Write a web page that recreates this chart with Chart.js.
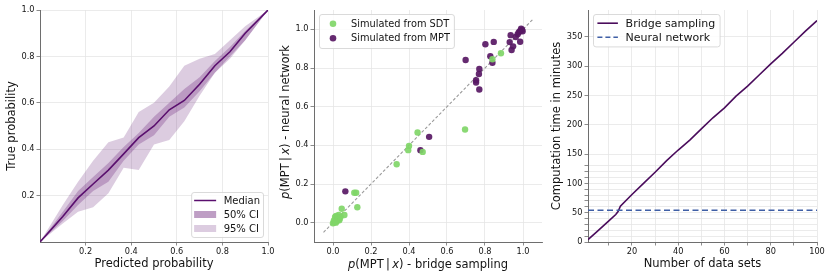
<!DOCTYPE html>
<html>
<head>
<meta charset="utf-8">
<script src="https://cdn.jsdelivr.net/npm/chart.js@4.4.1/dist/chart.umd.min.js"></script>
<style>
  html, body { margin: 0; padding: 0; background: #fff; }
  body { width: 831px; height: 279px; position: relative; overflow: hidden; }
  canvas { position: absolute; top: 0; }
</style>
</head>
<body>
<canvas id="calibration" width="278" height="279" style="left:0px"></canvas>
<canvas id="agreement" width="278" height="279" style="left:272px"></canvas>
<canvas id="timing" width="285" height="279" style="left:546px"></canvas>
<script>
// ---- left panel: calibration of the network ----
const predicted = [0, 0.1, 0.167, 0.233, 0.3, 0.367, 0.433, 0.5, 0.567, 0.633, 0.7, 0.767, 0.833, 0.9, 1];
const medianTrue = [0, 0.11, 0.19, 0.25, 0.31, 0.38, 0.45, 0.50, 0.57, 0.61, 0.68, 0.76, 0.82, 0.90, 1];
const ci50Upper = [0, 0.13, 0.22, 0.28, 0.34, 0.41, 0.47, 0.54, 0.60, 0.66, 0.71, 0.78, 0.84, 0.91, 1];
const ci50Lower = [0, 0.09, 0.16, 0.22, 0.26, 0.35, 0.42, 0.46, 0.54, 0.58, 0.65, 0.73, 0.80, 0.87, 1];
const ci95Upper = [0, 0.16, 0.26, 0.35, 0.43, 0.45, 0.56, 0.60, 0.67, 0.76, 0.79, 0.81, 0.87, 0.93, 1];
const ci95Lower = [0, 0.08, 0.13, 0.15, 0.21, 0.32, 0.31, 0.42, 0.44, 0.52, 0.63, 0.73, 0.79, 0.87, 1];
const probTicks = [0.2, 0.4, 0.6, 0.8, 1.0];

// ---- middle panel: bridge sampling vs network ----
const sdtBridge = [0.884, 0.839, 0.695, 0.445, 0.400, 0.396, 0.472, 0.335, 0.112, 0.122, 0.128, 0.046, 0.060,
  0.005, 0.011, 0.016, 0.035, 0.033, 0.025, 0.000, 0.008, 0.020, 0.030, 0.015, 0.040];
const sdtNetwork = [0.876, 0.845, 0.482, 0.466, 0.397, 0.375, 0.366, 0.302, 0.155, 0.155, 0.080, 0.072, 0.040,
  0.012, 0.029, 0.035, 0.020, 0.012, 0.018, -0.003, 0.002, 0.008, 0.040, 0.000, 0.030];
const mptBridge = [0.065, 0.460, 0.506, 0.698, 0.770, 0.768, 0.753, 0.753, 0.770, 0.802, 0.846, 0.828, 0.839,
  0.930, 0.935, 0.940, 0.948, 0.985, 0.972, 0.985, 0.995, 0.962, 0.990, 0.978, 0.998];
const mptNetwork = [0.162, 0.375, 0.444, 0.841, 0.795, 0.769, 0.737, 0.725, 0.689, 0.923, 0.935, 0.861, 0.827,
  0.934, 0.970, 0.893, 0.912, 0.936, 0.975, 0.992, 0.998, 0.960, 1.003, 0.985, 0.990];
const identityLine = [-0.05, 1.05];
const pmpTicks = [0, 0.2, 0.4, 0.6, 0.8, 1.0];

// ---- right panel: computation time ----
const nDataSets = [1, 5, 10, 13, 14, 15, 20, 25, 30, 35, 40, 45, 50, 55, 60, 65, 70, 75, 80, 85, 90, 95, 100];
const bridgeMinutes = [4, 18, 36, 47, 52, 61, 81, 100, 119, 139, 157, 174, 193, 212, 229, 249, 266, 285, 304, 322, 341, 360, 378];
const networkX = [1, 100];
const networkMinutes = [54, 54];
const dataSetTicks = [10, 20, 30, 40, 50, 60, 70, 80, 90, 100];
const minuteTicks = [0, 10, 20, 30, 40, 50, 60, 70, 80, 90, 100, 110, 120, 130, 150, 200, 250, 300, 350];

const FONT = '"DejaVu Sans", sans-serif';
const GRID = '#e6e6e6';
const SPINE = '#6e6e6e';
const TEXT = '#141414';
const MEDIAN_COLOR = '#5a0f6e';
const CI50_FILL = 'rgba(110, 40, 125, 0.30)';
const CI95_FILL = 'rgba(110, 40, 125, 0.24)';
const SDT_COLOR = 'rgba(128, 214, 104, 0.92)';
const MPT_COLOR = 'rgba(88, 24, 100, 0.92)';
const BRIDGE_COLOR = '#4a0c5c';
const NETWORK_COLOR = '#3f5fa6';

Chart.defaults.font.family = FONT;
Chart.defaults.color = TEXT;
Chart.defaults.animation = false;
Chart.defaults.plugins.legend.display = false;
Chart.defaults.plugins.tooltip.enabled = false;

const pairs = (xs, ys) => xs.map((x, i) => ({ x, y: ys[i] }));
const setTicks = (values) => (axis) => { axis.ticks = values.map((value) => ({ value })); };

function axisBase(opts) {
  return {
    type: 'linear',
    min: opts.min,
    max: opts.max,
    afterBuildTicks: setTicks(opts.ticks),
    afterFit: opts.fit,
    ticks: {
      autoSkip: false,
      maxRotation: 0,
      font: { size: 8.2 },
      color: TEXT,
      padding: opts.pad ?? 2,
      callback: opts.label,
    },
    grid: {
      color: GRID,
      lineWidth: 0.8,
      tickLength: 3.5,
      tickColor: SPINE,
      tickWidth: 0.8,
    },
    border: { color: SPINE, width: 1 },
    title: opts.title
      ? { display: true, text: opts.title, font: { size: 11.5 }, color: TEXT, padding: opts.titlePad }
      : { display: false },
  };
}

// small matplotlib-like legend box drawn inside the plot area
function boxLegend(cfg) {
  return {
    id: 'boxLegend',
    afterDraw(chart) {
      const { ctx, chartArea: a } = chart;
      ctx.save();
      ctx.font = `${cfg.fontSize}px ${FONT}`;
      const textW = Math.max(...cfg.items.map((it) => ctx.measureText(it.label).width));
      const w = cfg.padX + cfg.handle + cfg.gap + textW + cfg.padX;
      const h = cfg.padY * 2 + cfg.rowH * cfg.items.length;
      const x0 = cfg.corner === 'tl' ? a.left + 5 : a.right - 5 - w;
      const y0 = cfg.corner === 'tl' ? a.top + 4 : a.bottom - 5 - h;
      ctx.beginPath();
      ctx.roundRect(x0 + 0.5, y0 + 0.5, w, h, 2.5);
      ctx.fillStyle = 'rgba(255,255,255,0.85)';
      ctx.fill();
      ctx.strokeStyle = '#d0d0d0';
      ctx.lineWidth = 0.8;
      ctx.stroke();
      cfg.items.forEach((it, i) => {
        const cy = y0 + cfg.padY + cfg.rowH * (i + 0.5);
        const hx = x0 + cfg.padX;
        if (it.kind === 'line') {
          ctx.beginPath();
          ctx.setLineDash(it.dash || []);
          ctx.moveTo(hx, cy);
          ctx.lineTo(hx + cfg.handle, cy);
          ctx.strokeStyle = it.color;
          ctx.lineWidth = it.width || 1.5;
          ctx.stroke();
          ctx.setLineDash([]);
        } else if (it.kind === 'rect') {
          ctx.fillStyle = it.color;
          ctx.fillRect(hx, cy - 3.5, cfg.handle, 7);
        } else {
          ctx.beginPath();
          ctx.arc(hx + cfg.handle / 2, cy, 3.3, 0, Math.PI * 2);
          ctx.fillStyle = it.color;
          ctx.fill();
        }
        ctx.fillStyle = TEXT;
        ctx.textBaseline = 'middle';
        ctx.fillText(it.label, hx + cfg.handle + cfg.gap, cy + 0.5);
      });
      ctx.restore();
    },
  };
}

// axis titles with math italic p and x for the middle panel
function drawMixed(ctx, parts, cx, cy, rot) {
  ctx.save();
  ctx.translate(cx, cy);
  ctx.rotate(rot);
  let total = 0;
  parts.forEach((p) => { ctx.font = p.font; p.w = ctx.measureText(p.text).width; total += p.w; });
  let x = -total / 2;
  ctx.fillStyle = TEXT;
  ctx.textBaseline = 'middle';
  parts.forEach((p) => { ctx.font = p.font; ctx.fillText(p.text, x, 0); x += p.w; });
  ctx.restore();
}

const pmpTitles = {
  id: 'pmpTitles',
  afterDraw(chart) {
    const { ctx, chartArea: a } = chart;
    const it = `italic 11.5px ${FONT}`;
    const up = `11.5px ${FONT}`;
    const lhs = [
      { text: 'p', font: it }, { text: '(MPT\u2009|\u2009', font: up },
      { text: 'x', font: it }, { text: ')', font: up },
    ];
    drawMixed(ctx, [...lhs, { text: ' - bridge sampling', font: up }], (a.left + a.right) / 2, 265, 0);
    drawMixed(ctx, lhs.map((p) => ({ ...p })).concat([{ text: ' - neural network', font: up }]),
      14, (a.top + a.bottom) / 2 - 4, -Math.PI / 2);
  },
};

// ---- left chart ----
new Chart(document.getElementById('calibration'), {
  type: 'line',
  data: {
    datasets: [
      { data: pairs(predicted, medianTrue), borderColor: MEDIAN_COLOR, borderWidth: 1.6, pointRadius: 0, fill: false },
      { data: pairs(predicted, ci50Upper), borderColor: 'transparent', borderWidth: 0, pointRadius: 0, backgroundColor: CI50_FILL, fill: '+1' },
      { data: pairs(predicted, ci50Lower), borderColor: 'transparent', borderWidth: 0, pointRadius: 0, fill: false },
      { data: pairs(predicted, ci95Upper), borderColor: 'transparent', borderWidth: 0, pointRadius: 0, backgroundColor: CI95_FILL, fill: '+1' },
      { data: pairs(predicted, ci95Lower), borderColor: 'transparent', borderWidth: 0, pointRadius: 0, fill: false },
    ],
  },
  options: {
    responsive: false,
    layout: { padding: { top: 10, right: 10, left: 0, bottom: 0 } },
    scales: {
      x: axisBase({ min: 0, max: 1, ticks: probTicks, label: (v) => v.toFixed(1), pad: 1,
        fit: (s) => { s.height = 37; }, title: 'Predicted probability', titlePad: { top: 0, bottom: 8 } }),
      y: axisBase({ min: 0, max: 1, ticks: probTicks, label: (v) => v.toFixed(1),
        fit: (s) => { s.width = 40; }, title: 'True probability', titlePad: { top: 5, bottom: 0 } }),
    },
  },
  plugins: [boxLegend({
    corner: 'br', fontSize: 10, rowH: 14, padX: 3, padY: 1.5, handle: 22, gap: 7.5,
    items: [
      { label: 'Median', kind: 'line', color: MEDIAN_COLOR },
      { label: '50% CI', kind: 'rect', color: 'rgba(110, 40, 125, 0.45)' },
      { label: '95% CI', kind: 'rect', color: CI95_FILL },
    ],
  })],
});

// ---- middle chart ----
new Chart(document.getElementById('agreement'), {
  type: 'scatter',
  data: {
    datasets: [
      { data: pairs(sdtBridge, sdtNetwork), backgroundColor: SDT_COLOR, borderWidth: 0, pointRadius: 3.2 },
      { data: pairs(mptBridge, mptNetwork), backgroundColor: MPT_COLOR, borderWidth: 0, pointRadius: 3.2 },
      { type: 'line', data: pairs(identityLine, identityLine), borderColor: '#9a9a9a', borderWidth: 1.1,
        borderDash: [3, 2], pointRadius: 0, fill: false },
    ],
  },
  options: {
    responsive: false,
    layout: { padding: { top: 10, right: 8, left: 0, bottom: 0 } },
    scales: {
      x: axisBase({ min: -0.1, max: 1.1, ticks: pmpTicks, label: (v) => v.toFixed(1), pad: 1,
        fit: (s) => { s.height = 37; } }),
      y: axisBase({ min: -0.1, max: 1.1, ticks: pmpTicks, label: (v) => v.toFixed(1),
        fit: (s) => { s.width = 42; } }),
    },
  },
  plugins: [pmpTitles, boxLegend({
    corner: 'tl', fontSize: 9.8, rowH: 14.5, padX: 4, padY: 2.5, handle: 20, gap: 8,
    items: [
      { label: 'Simulated from SDT', kind: 'point', color: SDT_COLOR },
      { label: 'Simulated from MPT', kind: 'point', color: MPT_COLOR },
    ],
  })],
});

// ---- right chart ----
new Chart(document.getElementById('timing'), {
  type: 'line',
  data: {
    datasets: [
      { data: pairs(networkX, networkMinutes), borderColor: NETWORK_COLOR, borderWidth: 1.5,
        borderDash: [6, 3.5], pointRadius: 0, fill: false },
      { data: pairs(nDataSets, bridgeMinutes), borderColor: BRIDGE_COLOR, borderWidth: 1.6, pointRadius: 0, fill: false },
    ],
  },
  options: {
    responsive: false,
    layout: { padding: { top: 10, right: 14, left: 0, bottom: 0 } },
    scales: {
      x: axisBase({ min: 1, max: 100, ticks: dataSetTicks, label: (v) => (v % 20 === 0 ? String(v) : ''), pad: 1,
        fit: (s) => { s.height = 37; }, title: 'Number of data sets', titlePad: { top: 0, bottom: 8 } }),
      y: axisBase({ min: 0, max: 396, ticks: minuteTicks, label: (v) => (v % 50 === 0 ? String(v) : ''),
        fit: (s) => { s.width = 42; }, title: 'Computation time in minutes', titlePad: { top: 4, bottom: 0 } }),
    },
  },
  plugins: [boxLegend({
    corner: 'tl', fontSize: 11, rowH: 14, padX: 4.4, padY: 2.2, handle: 20.5, gap: 7.7,
    items: [
      { label: 'Bridge sampling', kind: 'line', color: BRIDGE_COLOR, width: 1.6 },
      { label: 'Neural network', kind: 'line', color: NETWORK_COLOR, dash: [5, 3], width: 1.5 },
    ],
  })],
});
</script>
</body>
</html>
